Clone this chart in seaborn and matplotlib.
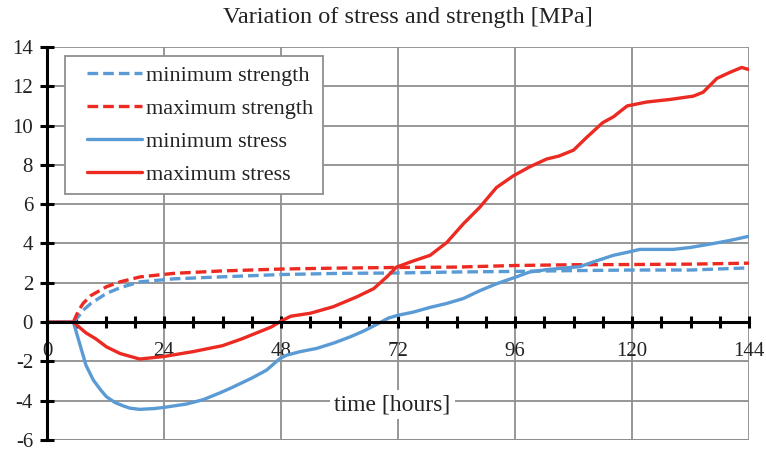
import matplotlib
matplotlib.use("Agg")
import matplotlib.pyplot as plt
from matplotlib.ticker import MultipleLocator, FixedLocator
from matplotlib.legend_handler import HandlerLine2D
from matplotlib.lines import Line2D
import seaborn as sns
import pandas as pd

sns.set_theme(style="white")
plt.rcParams["font.family"] = ["Liberation Serif", "DejaVu Serif"]

# Time axis (hours) and the four curves
max_stress_t = [0, 5.4, 8, 10, 12.2, 15, 19, 24, 30, 36, 40, 44, 46, 48, 50, 54, 58.7,
                63.5, 67, 69.7, 71.7, 75, 78.6, 82, 85.4, 88.8, 92.2, 95.7, 99, 102.5,
                105, 108, 110.7, 114, 116.2, 119, 123, 127.8, 132.6, 134.6, 137.4, 140,
                142.5, 144]
max_stress = [0, 0, -0.55, -0.85, -1.26, -1.6, -1.88, -1.75, -1.5, -1.2, -0.85, -0.45,
              -0.25, 0.05, 0.3, 0.45, 0.78, 1.28, 1.7, 2.3, 2.8, 3.1, 3.4, 4.05, 5.0,
              5.85, 6.85, 7.45, 7.9, 8.3, 8.45, 8.75, 9.4, 10.15, 10.45, 11.0, 11.2,
              11.33, 11.5, 11.7, 12.4, 12.7, 12.96, 12.85]

min_stress_t = [0, 5.4, 6, 7, 8, 9.5, 11, 12.2, 14, 15.7, 17, 19, 22, 24, 28.6, 32, 35.5,
                38.2, 42, 45, 47.8, 49.2, 52, 55.3, 59, 62.2, 65, 67.6, 70, 72, 75, 78.6,
                82, 85.4, 88.8, 92.2, 95.7, 99, 102.5, 106, 109.3, 112.5, 116.2, 119,
                121.6, 125, 128.5, 132, 136.7, 140, 144]
min_stress = [0, 0, -0.5, -1.35, -2.2, -2.95, -3.45, -3.8, -4.1, -4.27, -4.38, -4.44,
              -4.4, -4.34, -4.17, -3.95, -3.6, -3.3, -2.85, -2.45, -1.85, -1.68, -1.5,
              -1.34, -1.05, -0.75, -0.45, -0.12, 0.2, 0.35, 0.5, 0.75, 0.95, 1.2, 1.6,
              1.95, 2.25, 2.55, 2.67, 2.75, 2.82, 3.1, 3.4, 3.55, 3.7, 3.7, 3.7, 3.8,
              4.0, 4.15, 4.37]

strength_t = [5.4, 6.5, 7.4, 9, 12.2, 15, 19.1, 26, 35.5, 48, 60, 72, 84, 96, 108, 120,
              132, 144]
max_strength = [0, 0.6, 0.95, 1.35, 1.8, 2.05, 2.3, 2.48, 2.6, 2.7, 2.75, 2.78, 2.8,
                2.88, 2.92, 2.93, 2.95, 3.0]
min_strength = [0, 0.3, 0.6, 0.95, 1.46, 1.75, 2.05, 2.2, 2.3, 2.42, 2.48, 2.5, 2.55,
                2.58, 2.62, 2.65, 2.65, 2.76]

x_ticks = [0, 24, 48, 72, 96, 120, 144]
y_ticks = [-6, -4, -2, 0, 2, 4, 6, 8, 10, 12, 14]

BLUE = "#5b9bd5"
RED = "#ec2a22"
LW = 2.4
DASH = (3.2, 1.5)
GRID = "#8f8f8f"
TEXT = "#222222"

fig = plt.figure(figsize=(7.66, 4.51), dpi=100)
ax = fig.add_axes([47 / 766, 1 - 440 / 451, 702 / 766, 393 / 451])

series = [
    ("minimum strength", strength_t, min_strength, BLUE, True),
    ("maximum strength", strength_t, max_strength, RED, True),
    ("minimum stress", min_stress_t, min_stress, BLUE, False),
    ("maximum stress", max_stress_t, max_stress, RED, False),
]
for name, t, v, col, dashed in series:
    df = pd.DataFrame({"time": t, "value": v})
    sns.lineplot(data=df, x="time", y="value", ax=ax, color=col, lw=LW,
                 label=name, sort=False, estimator=None)
    if dashed:
        ax.lines[-1].set_dashes(DASH)

ax.set_xlim(0, 144)
ax.set_ylim(-6, 14)
ax.set_xlabel("")
ax.set_ylabel("")

# grid
ax.xaxis.set_major_locator(FixedLocator(x_ticks))
ax.xaxis.set_minor_locator(MultipleLocator(6))
ax.yaxis.set_major_locator(FixedLocator(y_ticks))
ax.grid(True, which="major", color=GRID, lw=1.3)
ax.set_axisbelow(True)

for s in ["top", "right"]:
    ax.spines[s].set_visible(False)
ax.spines["left"].set_color("black")
ax.spines["left"].set_linewidth(2.2)
ax.spines["bottom"].set_position(("data", 0))
ax.spines["bottom"].set_color("black")
ax.spines["bottom"].set_linewidth(2.2)
ax.spines["left"].set_zorder(5)
ax.spines["bottom"].set_zorder(5)

ax.tick_params(axis="y", which="major", direction="inout", length=10, width=2.2,
               color="black", labelsize=15, pad=5, left=True)
ax.tick_params(axis="x", which="both", direction="inout", length=9, width=2.2,
               color="black", labelsize=15, pad=10, bottom=True)
ax.set_xticklabels([str(v) for v in x_ticks])
ax.set_yticklabels([str(v) for v in y_ticks])
for lab in ax.get_xticklabels() + ax.get_yticklabels():
    lab.set_color(TEXT)

# bottom gridline as outer frame
ax.axhline(-6, color=GRID, lw=1.3, zorder=0)

ax.text(70.8, -4.2, "time [hours]", ha="center", va="center", fontsize=17,
        color=TEXT, bbox=dict(facecolor="white", edgecolor="none", pad=3),
        zorder=4)

leg = ax.legend(loc="upper left", bbox_to_anchor=(0.026, 0.977), fontsize=16,
                frameon=True, fancybox=False, edgecolor=GRID, framealpha=1,
                handlelength=3.05, handletextpad=0.18, labelspacing=0.56,
                borderpad=0.42, borderaxespad=0,
                handler_map={Line2D: HandlerLine2D(xpad=0.55)})
leg.get_frame().set_linewidth(1.3)
for txt in leg.get_texts():
    txt.set_color(TEXT)

fig.text(408 / 766, 1 - 17 / 451, "Variation of stress and strength [MPa]",
         ha="center", va="center", fontsize=17.5, color=TEXT)

fig.savefig("out.png", dpi=100)
